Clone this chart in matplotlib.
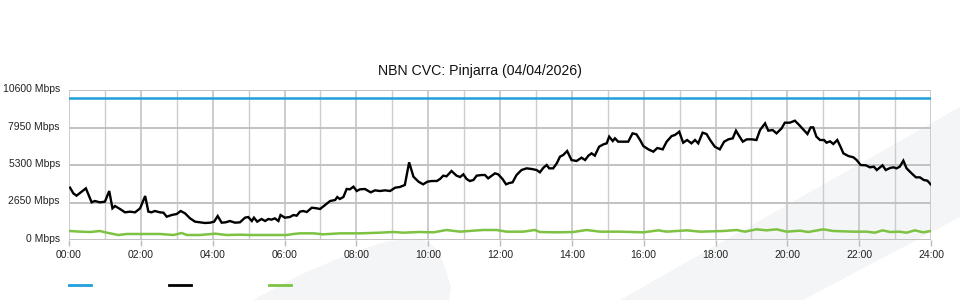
import matplotlib
matplotlib.use("Agg")
import matplotlib.pyplot as plt
import matplotlib.transforms as mtransforms
from matplotlib.lines import Line2D
from matplotlib.patches import Polygon

plt.rcParams['font.family'] = ['Liberation Sans', 'DejaVu Sans']

title = "NBN CVC: Pinjarra (04/04/2026)"
y_ticks = [0, 2650, 5300, 7950, 10600]
y_labels = ["0 Mbps", "2650 Mbps", "5300 Mbps", "7950 Mbps", "10600 Mbps"]
x_ticks = [0, 2, 4, 6, 8, 10, 12, 14, 16, 18, 20, 22, 24]
x_labels = ["00:00", "02:00", "04:00", "06:00", "08:00", "10:00", "12:00",
            "14:00", "16:00", "18:00", "20:00", "22:00", "24:00"]

capacity_t = [0, 24]
capacity_v = [10030, 10030]

traffic_t = [0.03, 0.12, 0.21, 0.35, 0.47, 0.63, 0.72, 0.86, 1.00, 1.12, 1.21, 1.28, 1.42,
             1.56, 1.70, 1.84, 1.98, 2.12, 2.21, 2.30, 2.39, 2.53, 2.63, 2.72, 2.86, 3.00,
             3.11, 3.23, 3.37, 3.51, 3.65, 3.79, 3.93, 4.04, 4.14, 4.25, 4.36, 4.48, 4.62,
             4.76, 4.90, 4.99, 5.09, 5.15, 5.24, 5.36, 5.46, 5.55, 5.64, 5.73, 5.83, 5.89,
             6.01, 6.15, 6.25, 6.34, 6.43, 6.52, 6.62, 6.76, 6.90, 6.99, 7.13, 7.27, 7.41,
             7.47, 7.54, 7.64, 7.73, 7.82, 7.92, 8.01, 8.10, 8.24, 8.40, 8.52, 8.66, 8.80,
             8.94, 9.08, 9.21, 9.35, 9.47, 9.59, 9.73, 9.86, 9.98, 10.10, 10.24, 10.33,
             10.42, 10.51, 10.65, 10.79, 10.89, 10.98, 11.07, 11.16, 11.26, 11.35, 11.49,
             11.58, 11.67, 11.77, 11.86, 11.95, 12.07, 12.17, 12.26, 12.35, 12.46, 12.60,
             12.74, 12.88, 13.02, 13.11, 13.21, 13.30, 13.37, 13.48, 13.58, 13.67, 13.76,
             13.87, 13.99, 14.13, 14.27, 14.37, 14.46, 14.55, 14.64, 14.76, 14.88, 14.97,
             15.04, 15.14, 15.20, 15.29, 15.43, 15.57, 15.69, 15.80, 15.90, 15.99, 16.13,
             16.27, 16.38, 16.53, 16.64, 16.78, 16.87, 16.99, 17.10, 17.21, 17.33, 17.43,
             17.52, 17.64, 17.75, 17.85, 17.98, 18.12, 18.24, 18.36, 18.48, 18.57, 18.66,
             18.76, 18.87, 19.01, 19.14, 19.24, 19.38, 19.47, 19.59, 19.70, 19.84, 19.93,
             20.07, 20.21, 20.33, 20.44, 20.56, 20.65, 20.72, 20.81, 20.91, 21.02, 21.09,
             21.19, 21.28, 21.39, 21.48, 21.56, 21.70, 21.84, 21.93, 22.04, 22.19, 22.30,
             22.41, 22.49, 22.65, 22.74, 22.86, 22.95, 23.04, 23.13, 23.23, 23.32, 23.46,
             23.58, 23.69, 23.80, 23.90, 23.99]
traffic_v = [3705, 3304, 3139, 3422, 3658, 2667, 2761, 2667, 2714, 3469, 2242, 2407, 2195,
             1959, 2006, 1959, 2242, 3115, 2006, 1959, 2053, 1959, 1935, 1652, 1770, 1841,
             2053, 1888, 1534, 1298, 1251, 1204, 1227, 1298, 1699, 1227, 1251, 1345, 1227,
             1251, 1581, 1628, 1345, 1581, 1298, 1487, 1345, 1487, 1440, 1534, 1345, 1770,
             1581, 1628, 1770, 1722, 2006, 2053, 1982, 2289, 2242, 2195, 2478, 2761, 2832,
             3044, 2903, 3044, 3611, 3587, 3776, 3469, 3587, 3611, 3375, 3516, 3469, 3516,
             3469, 3705, 3752, 3894, 5499, 4484, 4130, 3941, 4130, 4177, 4177, 4319,
             4555, 4508, 4885, 4555, 4460, 4650, 4319, 4177, 4248, 4555, 4602,
             4602, 4366, 4555, 4720, 4650, 4319, 3941, 4036, 4083, 4602, 4956,
             5074, 5027, 4956, 4791, 5121, 5310, 5074, 5074, 5428, 5900, 6018,
             6301, 5664, 5593, 5829, 5664, 5970, 6136, 5970, 6608, 6773, 6844,
             7317, 7009, 7199, 6962, 6962, 6962, 7552, 7481, 7080, 6655, 6419,
             6254, 6514, 6419, 6962, 7363, 7434, 7670, 6891, 7080, 6844, 7080,
             6844, 7599, 7505, 7080, 6608, 6419, 6962, 7128, 7199, 7741, 7363,
             6962, 7128, 7128, 7080, 7788, 8260, 7741, 7788, 7552, 7906, 8307,
             8307, 8449, 8142, 7835, 7505, 7977, 7977, 7317, 7080, 7080, 6891,
             6985, 6797, 7080, 6608, 6136, 5947, 5853, 5664, 5310, 5287, 5145,
             5192, 4956, 5287, 4956, 5098, 5145, 5074, 5192, 5617, 5074, 4720,
             4437, 4437, 4248, 4201, 3941]

upload_t = [0.03, 0.31, 0.59, 0.86, 1.05, 1.37, 1.61, 2.07, 2.53, 2.91, 3.14, 3.28, 3.65,
            4.07, 4.39, 4.76, 5.04, 5.33, 6.06, 6.25, 6.43, 6.80, 7.08, 7.55, 8.10, 8.66,
            9.03, 9.31, 9.77, 10.15, 10.51, 10.89, 11.26, 11.53, 11.90, 12.18, 12.65,
            12.97, 13.11, 13.58, 14.04, 14.41, 14.78, 15.34, 15.99, 16.41, 16.64, 17.20,
            17.57, 18.22, 18.59, 18.82, 19.14, 19.42, 19.70, 19.98, 20.35, 20.58, 21.00,
            21.28, 21.84, 22.21, 22.44, 22.65, 22.86, 23.13, 23.32, 23.55, 23.78, 23.99]
upload_v = [637, 590, 566, 637, 519, 354, 425, 425, 425, 354, 496, 354, 354,
            448, 354, 378, 354, 354, 354, 425, 472, 472, 401, 472, 472, 519,
            566, 519, 566, 543, 708, 590, 661, 708, 708, 590, 590,
            708, 566, 543, 566, 708, 590, 590, 543, 684, 590, 684,
            590, 637, 708, 590, 755, 684, 755, 590, 661, 566, 755,
            637, 590, 590, 519, 684, 566, 590, 519, 684, 543, 637]

series_colors = ['#1ea0dc', '#000000', '#7dc242']

fig = plt.figure(figsize=(9.6, 3.0), dpi=100)

# faint background watermark shapes (decorative)
wm = '#f4f5f7'
band = Polygon([(620/960, 0), (1, 1 - 107/300), (1, 1 - 217/300), (803/960, 0)],
               closed=True, transform=fig.transFigure, facecolor=wm, edgecolor='none', zorder=-5)
fig.add_artist(band)
blob_px = [(253, 300), (275, 288), (300, 275), (330, 262), (360, 250), (385, 242),
           (405, 239), (425, 240), (438, 250), (447, 274), (451, 287), (449, 300)]
blob = Polygon([(x/960, 1 - y/300) for x, y in blob_px], closed=True,
               transform=fig.transFigure, facecolor=wm, edgecolor='none', zorder=-5)
fig.add_artist(blob)

ax = fig.add_axes([69/960, 0.2, 862/960, 149.7/300])
ax.set_facecolor('none')
ax.set_zorder(1)

ax.plot(capacity_t, capacity_v, color=series_colors[0], lw=1.8, zorder=3)
ax.plot(traffic_t, traffic_v, color=series_colors[1], lw=1.7, zorder=4,
        solid_joinstyle='miter')
ax.plot(upload_t, upload_v, color=series_colors[2], lw=1.8, zorder=3)

ax.set_xlim(0, 24)
ax.set_ylim(0, 10600)
ax.set_yticks(y_ticks)
ax.set_yticklabels(y_labels)
ax.set_xticks(x_ticks)
ax.set_xticklabels(x_labels)
ax.set_xticks(range(0, 25), minor=True)

for s in ax.spines.values():
    s.set_visible(False)

ax.tick_params(axis='y', length=0, pad=6.5, labelsize=7.5, colors='#222222')
shift = mtransforms.ScaledTranslation(0, 1.5 / 72, fig.dpi_scale_trans)
for lbl in ax.get_yticklabels():
    lbl.set_transform(lbl.get_transform() + shift)
ax.tick_params(axis='x', which='major', length=4, width=1, color='#bbbbbb', pad=3.5,
               labelsize=7.5, labelcolor='#222222')
ax.tick_params(axis='x', which='minor', length=0)

ax.grid(axis='y', which='major', color='#c2c2c2', lw=1.4, zorder=1)
ax.grid(axis='x', which='minor', color='#cccccc', lw=1.0, zorder=1)
ax.grid(axis='x', which='major', color='#c4c4c4', lw=1.2, zorder=1)
ax.set_axisbelow(True)

fig.text(0.5, 1 - 71/300, title, ha='center', va='center', fontsize=10.2, color='#111111')

handles = [Line2D([], [], color=c, lw=2.0) for c in series_colors]
fig.legend(handles, ['', '', ''], ncol=3, loc='center left',
           bbox_to_anchor=(69/960, 1 - 285/300), frameon=False, fontsize=7.2,
           handlelength=2.2, handletextpad=0, columnspacing=7.8,
           borderpad=0, borderaxespad=0)

fig.savefig('out.png', dpi=100)
